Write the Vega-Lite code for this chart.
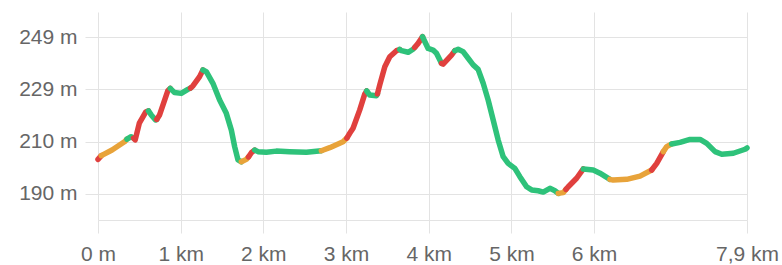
{
  "$schema": "https://vega.github.io/schema/vega-lite/v6.json",
  "autosize": "none",
  "width": 649,
  "height": 208,
  "padding": {"left": 98, "top": 12, "right": 35, "bottom": 45},
  "background": "white",
  "config": {
    "view": {"stroke": null},
    "font": "Liberation Sans",
    "axis": {
      "gridColor": "#e3e3e3",
      "gridWidth": 1,
      "tickColor": "#e3e3e3",
      "tickSize": 13,
      "domainColor": "#e3e3e3",
      "labelColor": "#666666",
      "labelFontSize": 21,
      "labelFont": "Liberation Sans",
      "title": null
    }
  },
  "data": {
    "values": [
      {"s":1,"c":"r","d":0,"e":203.0},{"s":1,"c":"r","d":0.04,"e":204.4},
      {"s":2,"c":"o","d":0.04,"e":204.4},{"s":2,"c":"o","d":0.17,"e":206.5},{"s":2,"c":"o","d":0.32,"e":209.6},{"s":2,"c":"o","d":0.35,"e":210.6},
      {"s":3,"c":"g","d":0.35,"e":210.6},{"s":3,"c":"g","d":0.40,"e":211.5},{"s":3,"c":"g","d":0.43,"e":211.0},
      {"s":4,"c":"r","d":0.43,"e":211.0},{"s":4,"c":"r","d":0.45,"e":210.3},{"s":4,"c":"r","d":0.50,"e":216.6},{"s":4,"c":"r","d":0.58,"e":220.9},{"s":4,"c":"r","d":0.61,"e":221.2},
      {"s":5,"c":"g","d":0.61,"e":221.2},{"s":5,"c":"g","d":0.644,"e":219.7},{"s":5,"c":"g","d":0.696,"e":217.8},{"s":5,"c":"g","d":0.71,"e":218.0},
      {"s":6,"c":"r","d":0.71,"e":218.0},{"s":6,"c":"r","d":0.745,"e":219.7},{"s":6,"c":"r","d":0.845,"e":228.8},{"s":6,"c":"r","d":0.874,"e":229.7},
      {"s":7,"c":"g","d":0.874,"e":229.7},{"s":7,"c":"g","d":0.926,"e":228.1},{"s":7,"c":"g","d":1.007,"e":227.8},{"s":7,"c":"g","d":1.087,"e":229.3},{"s":7,"c":"g","d":1.12,"e":229.8},
      {"s":8,"c":"r","d":1.12,"e":229.8},{"s":8,"c":"r","d":1.148,"e":230.6},{"s":8,"c":"r","d":1.229,"e":234.1},{"s":8,"c":"r","d":1.269,"e":236.6},
      {"s":9,"c":"g","d":1.269,"e":236.6},{"s":9,"c":"g","d":1.31,"e":235.95},{"s":9,"c":"g","d":1.39,"e":231.6},{"s":9,"c":"g","d":1.471,"e":225.3},{"s":9,"c":"g","d":1.552,"e":220.3},{"s":9,"c":"g","d":1.613,"e":214.0},{"s":9,"c":"g","d":1.653,"e":207.8},{"s":9,"c":"g","d":1.693,"e":202.8},{"s":9,"c":"g","d":1.734,"e":202.1},
      {"s":10,"c":"o","d":1.734,"e":202.1},{"s":10,"c":"o","d":1.794,"e":203.0},{"s":10,"c":"o","d":1.82,"e":203.9},
      {"s":11,"c":"r","d":1.82,"e":203.9},{"s":11,"c":"r","d":1.855,"e":205.5},{"s":11,"c":"r","d":1.895,"e":206.5},
      {"s":12,"c":"g","d":1.895,"e":206.5},{"s":12,"c":"g","d":1.935,"e":205.9},{"s":12,"c":"g","d":2.036,"e":205.65},{"s":12,"c":"g","d":2.157,"e":206.1},{"s":12,"c":"g","d":2.318,"e":205.9},{"s":12,"c":"g","d":2.521,"e":205.65},{"s":12,"c":"g","d":2.702,"e":206.25},
      {"s":13,"c":"o","d":2.702,"e":206.25},{"s":13,"c":"o","d":2.803,"e":207.4},{"s":13,"c":"o","d":2.964,"e":209.6},{"s":13,"c":"o","d":3.01,"e":211.0},
      {"s":14,"c":"r","d":3.01,"e":211.0},{"s":14,"c":"r","d":3.045,"e":212.8},{"s":14,"c":"r","d":3.085,"e":214.7},{"s":14,"c":"r","d":3.166,"e":221.6},{"s":14,"c":"r","d":3.227,"e":227.6},{"s":14,"c":"r","d":3.25,"e":228.7},
      {"s":15,"c":"g","d":3.25,"e":228.7},{"s":15,"c":"g","d":3.287,"e":227.2},{"s":15,"c":"g","d":3.368,"e":226.9},{"s":15,"c":"g","d":3.38,"e":227.6},
      {"s":16,"c":"r","d":3.38,"e":227.6},{"s":16,"c":"r","d":3.408,"e":231.0},{"s":16,"c":"r","d":3.469,"e":237.8},{"s":16,"c":"r","d":3.529,"e":241.6},{"s":16,"c":"r","d":3.61,"e":243.85},{"s":16,"c":"r","d":3.65,"e":244.3},
      {"s":17,"c":"g","d":3.65,"e":244.3},{"s":17,"c":"g","d":3.671,"e":243.85},{"s":17,"c":"g","d":3.751,"e":243.25},{"s":17,"c":"g","d":3.811,"e":244.4},{"s":17,"c":"g","d":3.83,"e":245.05},
      {"s":18,"c":"r","d":3.83,"e":245.05},{"s":18,"c":"r","d":3.872,"e":246.6},{"s":18,"c":"r","d":3.925,"e":249.1},
      {"s":19,"c":"g","d":3.925,"e":249.1},{"s":19,"c":"g","d":3.993,"e":244.7},{"s":19,"c":"g","d":4.053,"e":244.1},{"s":19,"c":"g","d":4.094,"e":242.9},{"s":19,"c":"g","d":4.155,"e":239.1},
      {"s":20,"c":"r","d":4.155,"e":239.1},{"s":20,"c":"r","d":4.174,"e":238.8},{"s":20,"c":"r","d":4.276,"e":242.2},{"s":20,"c":"r","d":4.316,"e":243.85},
      {"s":21,"c":"g","d":4.316,"e":243.85},{"s":21,"c":"g","d":4.356,"e":244.4},{"s":21,"c":"g","d":4.416,"e":243.5},{"s":21,"c":"g","d":4.477,"e":241.0},{"s":21,"c":"g","d":4.538,"e":238.5},{"s":21,"c":"g","d":4.598,"e":236.85},{"s":21,"c":"g","d":4.659,"e":231.6},{"s":21,"c":"g","d":4.719,"e":225.3},{"s":21,"c":"g","d":4.78,"e":217.8},{"s":21,"c":"g","d":4.84,"e":210.3},{"s":21,"c":"g","d":4.901,"e":204.0},{"s":21,"c":"g","d":4.961,"e":201.5},{"s":21,"c":"g","d":5.042,"e":199.6},{"s":21,"c":"g","d":5.103,"e":196.5},{"s":21,"c":"g","d":5.184,"e":192.7},{"s":21,"c":"g","d":5.245,"e":191.5},{"s":21,"c":"g","d":5.324,"e":191.2},{"s":21,"c":"g","d":5.385,"e":190.7},{"s":21,"c":"g","d":5.466,"e":192.1},{"s":21,"c":"g","d":5.527,"e":191.2},{"s":21,"c":"g","d":5.567,"e":190.2},
      {"s":22,"c":"o","d":5.567,"e":190.2},{"s":22,"c":"o","d":5.627,"e":190.5},{"s":22,"c":"o","d":5.66,"e":191.7},
      {"s":23,"c":"r","d":5.66,"e":191.7},{"s":23,"c":"r","d":5.688,"e":192.7},{"s":23,"c":"r","d":5.789,"e":195.9},{"s":23,"c":"r","d":5.87,"e":199.4},
      {"s":24,"c":"g","d":5.87,"e":199.4},{"s":24,"c":"g","d":5.99,"e":199.0},{"s":24,"c":"g","d":6.071,"e":197.8},{"s":24,"c":"g","d":6.192,"e":195.5},
      {"s":25,"c":"o","d":6.192,"e":195.5},{"s":25,"c":"o","d":6.232,"e":195.2},{"s":25,"c":"o","d":6.395,"e":195.5},{"s":25,"c":"o","d":6.556,"e":196.7},{"s":25,"c":"o","d":6.697,"e":199.0},
      {"s":26,"c":"r","d":6.697,"e":199.0},{"s":26,"c":"r","d":6.758,"e":201.5},{"s":26,"c":"r","d":6.838,"e":205.9},
      {"s":27,"c":"o","d":6.838,"e":205.9},{"s":27,"c":"o","d":6.879,"e":207.8},{"s":27,"c":"o","d":6.939,"e":208.8},
      {"s":28,"c":"g","d":6.939,"e":208.8},{"s":28,"c":"g","d":7.04,"e":209.4},{"s":28,"c":"g","d":7.161,"e":210.5},{"s":28,"c":"g","d":7.282,"e":210.5},{"s":28,"c":"g","d":7.363,"e":209.0},{"s":28,"c":"g","d":7.464,"e":205.9},{"s":28,"c":"g","d":7.545,"e":204.9},{"s":28,"c":"g","d":7.685,"e":205.3},{"s":28,"c":"g","d":7.827,"e":206.8},{"s":28,"c":"g","d":7.85,"e":207.3}
    ]
  },
  "mark": {"type": "line", "strokeWidth": 5.5, "strokeCap": "round", "strokeJoin": "round", "clip": false},
  "encoding": {
    "x": {
      "field": "d", "type": "quantitative",
      "scale": {"domain": [0, 7.85], "nice": false, "zero": false},
      "axis": {
        "values": [0, 1, 2, 3, 4, 5, 6, 7.85],
        "labelExpr": "datum.value == 0 ? '0 m' : (datum.value > 7 ? '7,9 km' : datum.value + ' km')",
        "labelPadding": 10,
        "labelFlush": false,
        "labelOverlap": false,
        "domain": true
      }
    },
    "y": {
      "field": "e", "type": "quantitative",
      "scale": {"domain": [180.2, 258.4], "nice": false, "zero": false},
      "axis": {
        "values": [190, 209.67, 229.33, 249],
        "labelExpr": "round(datum.value) + ' m'",
        "labelPadding": 8,
        "domain": false
      }
    },
    "color": {
      "field": "c", "type": "nominal",
      "scale": {"domain": ["g", "o", "r"], "range": ["#2ec27a", "#e8a33a", "#e0403e"]},
      "legend": null
    },
    "detail": {"field": "s", "type": "nominal"}
  }
}
